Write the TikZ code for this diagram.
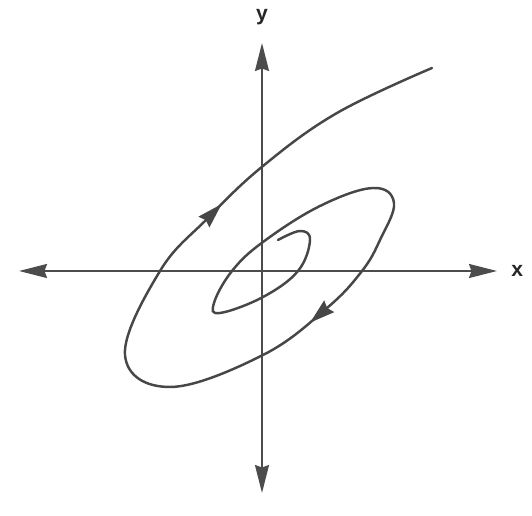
\documentclass[tikz,border=0pt]{standalone}
\usepackage{fontspec}
\setsansfont{Liberation Sans}
\usetikzlibrary{arrows.meta, decorations.markings, positioning}

\begin{document}
\begin{tikzpicture}[
    x=0.02cm, y=-0.02cm,
    axisline/.style = {draw=black!70, line width=1.1pt, {Stealth[length=5.6mm, width=2.8mm, inset=0.5mm]}-{Stealth[length=5.6mm, width=2.8mm, inset=0.5mm]}},
    orbit/.style = {draw=black!72, line width=1.4pt, line cap=round, postaction={decorate}},
    axislabel/.style = {font=\sffamily\bfseries\large, inner sep=1pt, text=black!85}
]
\useasboundingbox (0,0) rectangle (532,516);

% axes
\coordinate (xl) at (19,271);
\coordinate (xr) at (497,271);
\coordinate (yt) at (262,43);
\coordinate (yb) at (262,493);
\draw [axisline] (xl) -- (xr);
\draw [axisline] (yb) -- (yt);
\node (xlab) [axislabel, right=7pt of xr] {x};
\node (ylab) [axislabel, above=9pt of yt] {y};

% trajectory spiralling out
\draw [orbit, decoration={markings,
        mark=at position 0.462 with {\arrow{Stealth[length=5mm, width=3mm, inset=0.5mm]}},
        mark=at position 0.792 with {\arrow{Stealth[length=5mm, width=3mm, inset=0.5mm]}}}]
    plot [smooth, tension=0.65] coordinates {
    (278,240) (300,231) (310,240) (298,271) (263,297) (220,313) (214,303)
    (232,271) (263,242) (320,206) (373,188) (394,203) (380,240) (362,271) (327,308)
    (263,355) (170,387) (125,355) (160,271) (208,218) (263,166) (337,113)
    (432,68)};

\end{tikzpicture}
\end{document}
